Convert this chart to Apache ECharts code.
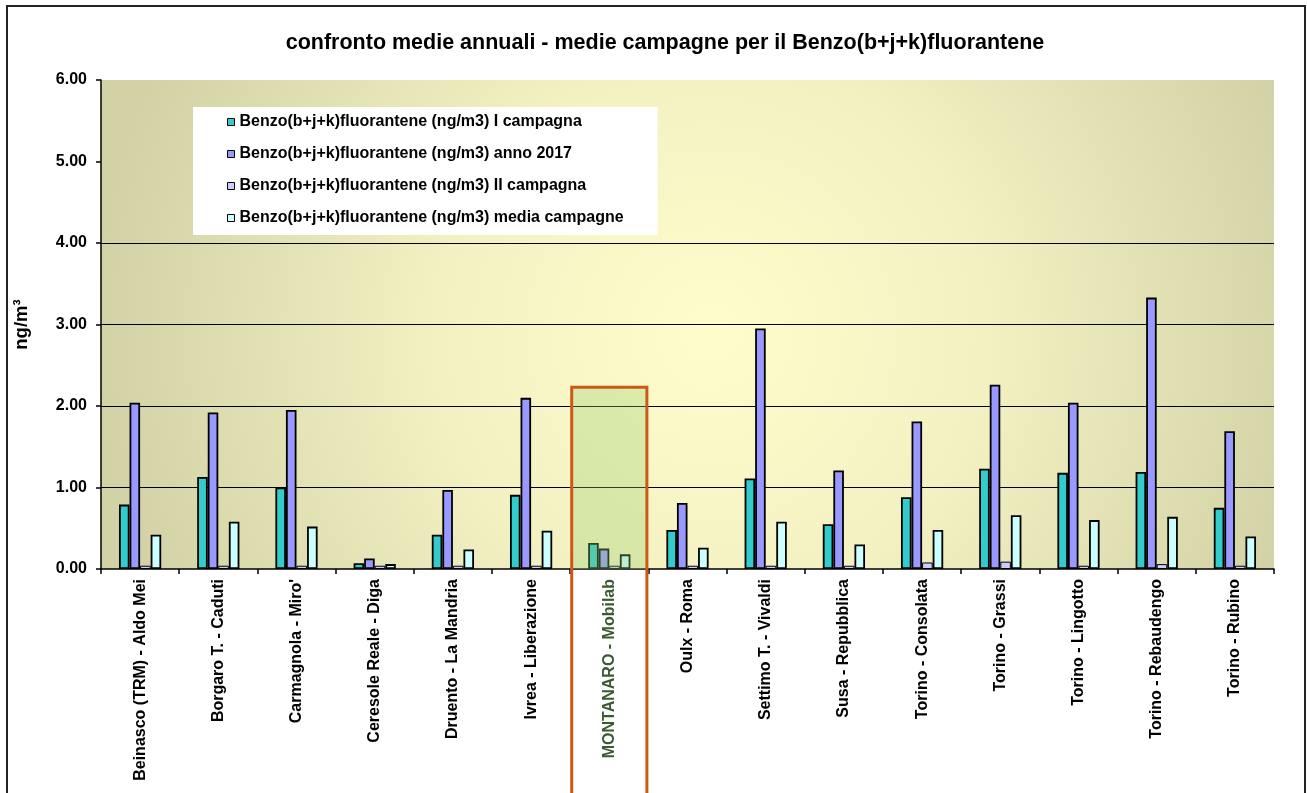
<!DOCTYPE html>
<html>
<head>
<meta charset="utf-8">
<script src="https://cdn.jsdelivr.net/npm/echarts@6/dist/echarts.min.js"></script>
<style>
  html, body { margin: 0; padding: 0; background: #ffffff; }
  #chart { width: 1307px; height: 793px; }
</style>
</head>
<body>
<div id="chart"></div>
<script>
// Monitoring stations (category axis)
const stations = [
  'Beinasco (TRM) - Aldo Mei',
  'Borgaro T. - Caduti',
  "Carmagnola - Miro'",
  'Ceresole Reale - Diga',
  'Druento - La Mandria',
  'Ivrea - Liberazione',
  'MONTANARO - Mobilab',
  'Oulx - Roma',
  'Settimo T. - Vivaldi',
  'Susa - Repubblica',
  'Torino - Consolata',
  'Torino - Grassi',
  'Torino - Lingotto',
  'Torino - Rebaudengo',
  'Torino - Rubino'
];

// Benzo(b+j+k)fluorantene, ng/m3
const campagna1     = [0.79, 1.13, 1.00, 0.07, 0.42, 0.91, 0.32, 0.48, 1.11, 0.55, 0.88, 1.23, 1.18, 1.19, 0.75];
const anno2017      = [2.04, 1.92, 1.95, 0.13, 0.97, 2.10, 0.25, 0.81, 2.95, 1.21, 1.81, 2.26, 2.04, 3.33, 1.69];
const campagna2     = [0.04, 0.04, 0.04, 0.04, 0.04, 0.04, 0.04, 0.04, 0.04, 0.04, 0.08, 0.09, 0.04, 0.06, 0.04];
const mediaCampagne = [0.42, 0.58, 0.52, 0.06, 0.24, 0.47, 0.18, 0.26, 0.58, 0.30, 0.48, 0.66, 0.60, 0.64, 0.40];

const seriesNames = [
  'Benzo(b+j+k)fluorantene (ng/m3) I campagna',
  'Benzo(b+j+k)fluorantene (ng/m3) anno 2017',
  'Benzo(b+j+k)fluorantene (ng/m3) II campagna',
  'Benzo(b+j+k)fluorantene (ng/m3) media campagne'
];
const seriesColors = ['#33CCCC', '#9999FF', '#CCCCFF', '#CCFFFF'];
const seriesBorders = [1.8, 1.8, 1, 1.8];

// y axis scale
const yMin = 0, yMax = 6, yStep = 1;
// gridlines drawn only at these tick values
const gridlineValues = [1, 2, 3, 4];

const highlightStation = 'MONTANARO - Mobilab';
const highlightTop = 2.23;

const FONT = 'Liberation Sans, Arial, sans-serif';

const chart = echarts.init(document.getElementById('chart'), null, { renderer: 'canvas' });

const tickColors = [];
for (let v = yMin; v <= yMax; v += yStep) {
  tickColors.push(gridlineValues.indexOf(v) >= 0 ? '#000000' : 'rgba(0,0,0,0)');
}

const seriesData = [campagna1, anno2017, campagna2, mediaCampagne];

const option = {
  animation: false,
  backgroundColor: '#ffffff',
  title: {
    text: 'confronto medie annuali - medie campagne per il Benzo(b+j+k)fluorantene',
    left: 660,
    textAlign: 'center',
    top: 27,
    textStyle: { fontFamily: FONT, fontSize: 21.5, fontWeight: 'bold', color: '#000' }
  },
  legend: {
    orient: 'vertical',
    left: 193,
    top: 107,
    padding: [7, 34, 9, 34],
    backgroundColor: '#ffffff',
    itemWidth: 7,
    itemHeight: 7,
    itemGap: 16,
    icon: 'rect',
    itemStyle: { borderColor: '#000', borderWidth: 1 },
    textStyle: { fontFamily: FONT, fontSize: 16, fontWeight: 'bold', color: '#000', lineHeight: 16 },
    data: seriesNames
  },
  grid: {
    left: 101,
    right: 33,
    top: 80,
    bottom: 224,
    show: true,
    borderWidth: 0,
    backgroundColor: {
      type: 'radial', x: 0.52, y: 0.52, r: 1.25,
      colorStops: [
        { offset: 0, color: '#FFFDCB' },
        { offset: 0.45, color: '#F3F1C2' },
        { offset: 1, color: '#D2D2A6' }
      ]
    }
  },
  xAxis: {
    type: 'category',
    data: stations,
    axisLine: { lineStyle: { color: '#000', width: 1.5 } },
    axisTick: { show: true, length: 5, alignWithLabel: false, lineStyle: { color: '#000', width: 1.5 } },
    axisLabel: {
      rotate: 90,
      interval: 0,
      margin: 10,
      fontFamily: FONT,
      fontSize: 16,
      fontWeight: 'bold',
      color: function (value) { return value === highlightStation ? '#3B5A30' : '#000'; }
    },
    splitLine: { show: false }
  },
  yAxis: {
    type: 'value',
    min: yMin,
    max: yMax,
    interval: yStep,
    name: 'ng/m³',
    nameLocation: 'middle',
    nameRotate: 90,
    nameGap: 70,
    nameTextStyle: { fontFamily: FONT, fontSize: 18.5, fontWeight: 'bold', color: '#000' },
    axisLine: { show: true, lineStyle: { color: '#000', width: 1.5 } },
    axisTick: { show: true, length: 5, inside: false, lineStyle: { color: '#000', width: 1.5 } },
    axisLabel: {
      margin: 14,
      fontFamily: FONT,
      fontSize: 16,
      fontWeight: 'bold',
      color: '#000',
      formatter: function (v) { return v.toFixed(2); }
    },
    splitLine: { show: true, showMinLine: true, showMaxLine: true, lineStyle: { color: tickColors, width: 1.2 } }
  },
  series: seriesNames.map(function (name, i) {
    return {
      name: name,
      type: 'bar',
      data: seriesData[i],
      barGap: '0%',
      barCategoryGap: '46%',
      itemStyle: { color: seriesColors[i], borderColor: '#000', borderWidth: seriesBorders[i] },
      emphasis: { disabled: true }
    };
  })
};

chart.setOption(option);

// Highlight frame around the mobile-lab station, plus the outer chart frame
function drawOverlays() {
  const idx = stations.indexOf(highlightStation);
  const cx = chart.convertToPixel({ xAxisIndex: 0 }, idx);
  const cxNext = chart.convertToPixel({ xAxisIndex: 0 }, idx + 1);
  const band = cxNext - cx;
  const yTop = chart.convertToPixel({ yAxisIndex: 0 }, highlightTop);
  const yBase = chart.convertToPixel({ yAxisIndex: 0 }, yMin);
  const x0 = cx - band / 2 + 1.5;
  const w = band - 3;
  chart.setOption({
    graphic: [
      {
        type: 'rect', z: 50, silent: true,
        shape: { x: x0, y: yTop, width: w, height: yBase - yTop },
        style: { fill: 'rgba(150,205,110,0.32)', stroke: null }
      },
      {
        type: 'rect', z: 51, silent: true,
        shape: { x: x0, y: yTop, width: w, height: 900 },
        style: { fill: null, stroke: '#CC5A16', lineWidth: 3 }
      },
      {
        type: 'rect', z: 60, silent: true,
        shape: { x: 7, y: 6, width: 1298, height: 900 },
        style: { fill: null, stroke: '#222222', lineWidth: 2 }
      }
    ]
  });
}
drawOverlays();
</script>
</body>
</html>
